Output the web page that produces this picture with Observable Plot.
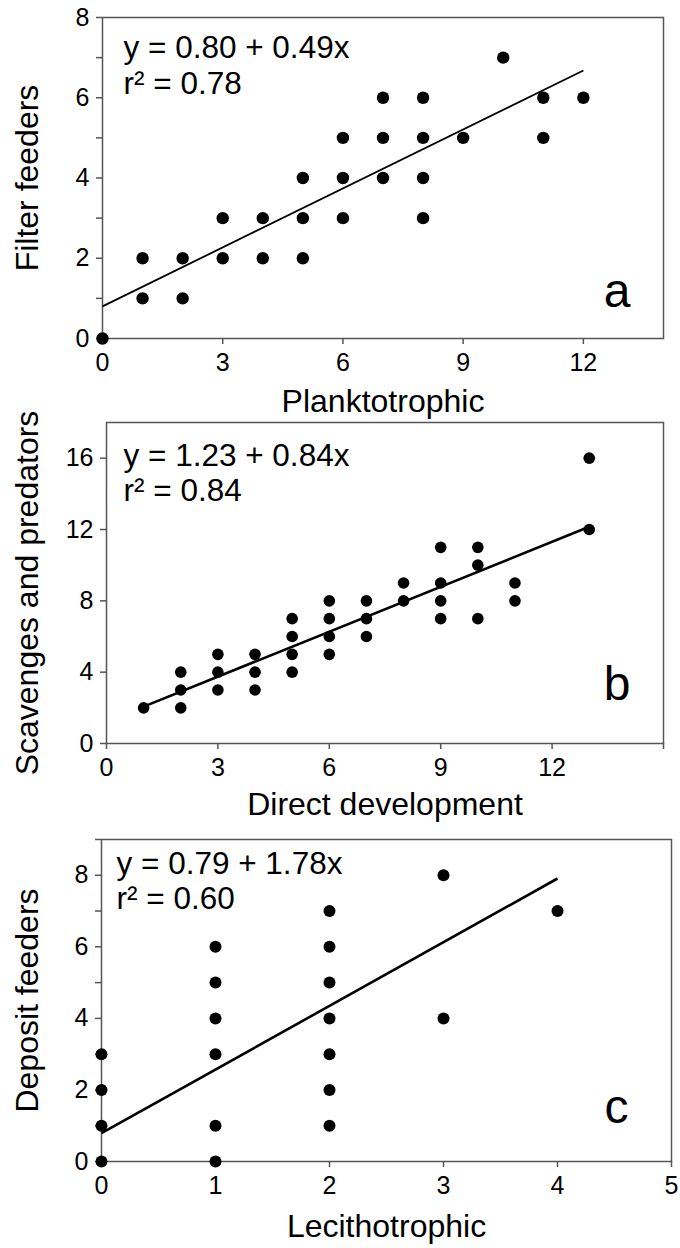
<!DOCTYPE html>
<html>
<head>
<meta charset="utf-8">
<script src="https://cdn.jsdelivr.net/npm/d3@7"></script>
<script src="https://cdn.jsdelivr.net/npm/@observablehq/plot@0.6"></script>
<style>
  html, body { margin: 0; padding: 0; background: white; }
  #chart { width: 680px; }
  #chart svg { display: block; }
</style>
</head>
<body>
<div id="chart"></div>
<script>
// ---- Panel a: Planktotrophic vs Filter feeders ----
const aX = [0, 1, 1, 2, 2, 3, 3, 4, 4, 5, 5, 5, 6, 6, 6, 7, 7, 7, 8, 8, 8, 8, 9, 10, 11, 11, 12];
const aY = [0, 1, 2, 1, 2, 2, 3, 2, 3, 2, 3, 4, 3, 4, 5, 4, 5, 6, 3, 4, 5, 6, 5, 7, 5, 6, 6];
const aFit = {b0: 0.80, b1: 0.49, from: 0, to: 12};
const aEq = ["y = 0.80 + 0.49x", "r² = 0.78"];
const aXTicks = [0, 3, 6, 9, 12];
const aYTicks = [0, 1, 2, 3, 4, 5, 6, 7, 8];
const aYLabels = [0, 2, 4, 6, 8];

// ---- Panel b: Direct development vs Scavenges and predators ----
const bX = [1, 2, 2, 2, 3, 3, 3, 4, 4, 4, 5, 5, 5, 5, 6, 6, 6, 6, 7, 7, 7, 8, 8, 9, 9, 9, 9, 10, 10, 10, 11, 11, 13, 13];
const bY = [2, 2, 3, 4, 3, 4, 5, 3, 4, 5, 4, 5, 6, 7, 5, 6, 7, 8, 6, 7, 8, 8, 9, 7, 8, 9, 11, 7, 10, 11, 8, 9, 12, 16];
const bFit = {b0: 1.23, b1: 0.84, from: 1, to: 13};
const bEq = ["y = 1.23 + 0.84x", "r² = 0.84"];
const bXTicks = [0, 3, 6, 9, 12, 15];
const bXLabels = [0, 3, 6, 9, 12];
const bYTicks = [0, 4, 8, 12, 16];

// ---- Panel c: Lecithotrophic vs Deposit feeders ----
const cX = [0, 0, 0, 0, 1, 1, 1, 1, 1, 1, 2, 2, 2, 2, 2, 2, 2, 3, 3, 4];
const cY = [0, 1, 2, 3, 0, 1, 3, 4, 5, 6, 1, 2, 3, 4, 5, 6, 7, 4, 8, 7];
const cFit = {b0: 0.79, b1: 1.78, from: 0, to: 4};
const cEq = ["y = 0.79 + 1.78x", "r² = 0.60"];
const cXTicks = [0, 1, 2, 3, 4, 5];
const cYTicks = [0, 1, 2, 3, 4, 5, 6, 7, 8, 9];
const cYLabels = [0, 2, 4, 6, 8];

const FONT = "'Liberation Sans', Arial, Helvetica, sans-serif";

function panel(o) {
  const pts = o.xs.map((x, i) => ({x, y: o.ys[i]}));
  const fit = o.fit;
  return Plot.plot({
    width: 680,
    height: o.height,
    marginTop: o.mt, marginBottom: o.mb, marginLeft: o.ml, marginRight: o.mr,
    style: {fontFamily: FONT, fontSize: "25px", color: "black", background: "white", overflow: "visible"},
    x: {domain: o.xDomain},
    y: {domain: o.yDomain},
    marks: [
      Plot.frame({stroke: "#555", strokeWidth: 1.5}),
      Plot.axisY({ticks: o.yTicks, tickSize: 6, tickPadding: 7, stroke: "#555", strokeWidth: 1.5,
        tickFormat: d => (o.yLabels ? o.yLabels.includes(d) : true) ? String(d) : "", label: null, fontSize: 25, fill: "black"}),
      Plot.axisX({ticks: o.xTicks, tickSize: 6, tickPadding: 9, stroke: "#555", strokeWidth: 1.5,
        tickFormat: d => (o.xLabels ? o.xLabels.includes(d) : true) ? String(d) : "", label: null, fontSize: 25, fill: "black"}),
      Plot.link([fit], {
        x1: d => d.from, y1: d => d.b0 + d.b1 * d.from,
        x2: d => d.to, y2: d => d.b0 + d.b1 * d.to,
        stroke: "black", strokeWidth: o.lw
      }),
      Plot.dot(pts, {x: "x", y: "y", r: o.r, fill: "black", stroke: "none"}),
      Plot.text([o.eq[0]], {frameAnchor: "top-left", textAnchor: "start", lineAnchor: "middle",
        dx: o.eqDx, dy: o.eqDy1, fontSize: 31.5, fill: "black"}),
      Plot.text([o.eq[1]], {frameAnchor: "top-left", textAnchor: "start", lineAnchor: "middle",
        dx: o.eqDx, dy: o.eqDy2, fontSize: 31.5, fill: "black"}),
      Plot.text([o.letter], {frameAnchor: "bottom-right", textAnchor: "end", lineAnchor: "bottom",
        dx: o.letDx, dy: o.letDy, fontSize: 48, fill: "black"}),
      Plot.text([o.xLabel], {frameAnchor: "bottom", textAnchor: "middle", lineAnchor: "middle",
        dy: o.xlDy, fontSize: 32, fill: "black"}),
      Plot.text([o.yLabel], {frameAnchor: "left", textAnchor: "middle", lineAnchor: "middle",
        rotate: -90, dx: o.ylDx, dy: o.ylDy || 0, fontSize: 32, fill: "black"})
    ]
  });
}

const chart = document.getElementById("chart");

chart.append(panel({
  xs: aX, ys: aY, fit: aFit, eq: aEq, letter: "a",
  xLabel: "Planktotrophic", yLabel: "Filter feeders",
  xDomain: [0, 14], yDomain: [0, 8],
  xTicks: aXTicks, yTicks: aYTicks, yLabels: aYLabels,
  height: 415, mt: 17, mb: 77, ml: 102, mr: 17,
  r: 6.2, lw: 1.8,
  eqDx: 21, eqDy1: 30, eqDy2: 66,
  letDx: -33, letDy: -32,
  xlDy: 63, ylDx: -75
}));

chart.append(panel({
  xs: bX, ys: bY, fit: bFit, eq: bEq, letter: "b",
  xLabel: "Direct development", yLabel: "Scavenges and predators",
  xDomain: [0, 15], yDomain: [0, 18],
  xTicks: bXTicks, xLabels: bXLabels, yTicks: bYTicks,
  height: 405, mt: 7, mb: 77, ml: 106, mr: 17,
  r: 5.8, lw: 2.6,
  eqDx: 17, eqDy1: 33, eqDy2: 68,
  letDx: -33, letDy: -44,
  xlDy: 61, ylDx: -79, ylDy: 10
}));

chart.append(panel({
  xs: cX, ys: cY, fit: cFit, eq: cEq, letter: "c",
  xLabel: "Lecithotrophic", yLabel: "Deposit feeders",
  xDomain: [0, 5], yDomain: [0, 9],
  xTicks: cXTicks, yTicks: cYTicks, yLabels: cYLabels,
  height: 428, mt: 19, mb: 87, ml: 101, mr: 9,
  r: 6, lw: 2.6,
  eqDx: 15, eqDy1: 24, eqDy2: 59,
  letDx: -43, letDy: -39,
  xlDy: 65, ylDx: -74
}));
</script>
</body>
</html>
